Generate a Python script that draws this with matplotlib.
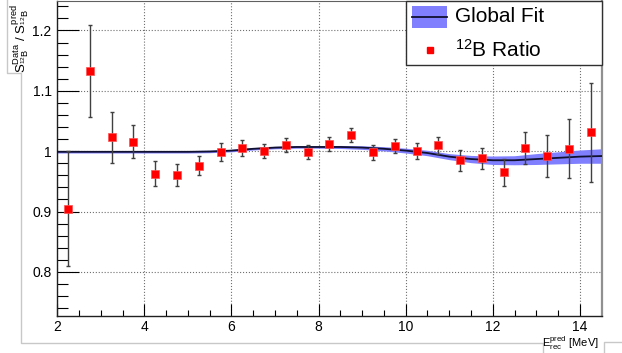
import numpy as np
import matplotlib
matplotlib.use("Agg")
from matplotlib import pyplot as plt
from matplotlib.lines import Line2D
from matplotlib.patches import Rectangle

plt.rcParams['font.family'] = ['Liberation Sans', 'DejaVu Sans']
plt.rcParams['mathtext.fontset'] = 'custom'
plt.rcParams['mathtext.rm'] = 'Liberation Sans'
plt.rcParams['mathtext.it'] = 'Liberation Sans'

# 12B ratio points (bin centres, ratio, error)
e_bins = [2.25, 2.75, 3.25, 3.75, 4.25, 4.75, 5.25, 5.75, 6.25, 6.75, 7.25, 7.75, 8.25,
          8.75, 9.25, 9.75, 10.25, 10.75, 11.25, 11.75, 12.25, 12.75, 13.25, 13.75, 14.25]
ratio = [0.905, 1.133, 1.023, 1.016, 0.963, 0.961, 0.976, 0.999, 1.005, 1.000, 1.010, 0.999, 1.012,
         1.027, 0.998, 1.009, 1.000, 1.010, 0.985, 0.988, 0.965, 1.005, 0.992, 1.004, 1.031]
ratio_err = [0.095, 0.076, 0.042, 0.028, 0.021, 0.018, 0.016, 0.015, 0.013, 0.012, 0.012, 0.012, 0.012,
             0.011, 0.012, 0.012, 0.013, 0.014, 0.017, 0.018, 0.022, 0.026, 0.035, 0.049, 0.082]

# global fit curve and its band
fit_e = [2.0, 3.0, 4.0, 5.0, 5.5, 6.0, 6.5, 7.0, 7.5, 8.0, 8.5, 9.0, 9.5, 10.0,
         10.5, 11.0, 11.5, 12.0, 12.5, 13.0, 13.5, 14.0, 14.5]
fit_val = [0.999, 0.999, 0.999, 0.999, 0.9995, 1.001, 1.004, 1.006, 1.007, 1.007, 1.007, 1.006, 1.004, 1.001,
           0.997, 0.991, 0.987, 0.985, 0.985, 0.987, 0.989, 0.991, 0.992]
fit_err = [0.002, 0.002, 0.002, 0.002, 0.002, 0.002, 0.002, 0.002, 0.002, 0.002, 0.0025, 0.003, 0.0035, 0.004,
           0.0045, 0.005, 0.006, 0.007, 0.0075, 0.009, 0.010, 0.011, 0.012]

fig = plt.figure(figsize=(6.22, 3.53), dpi=100)
ax = fig.add_axes([0.0921, 0.1048, 0.8752, 0.891])

fv = np.array(fit_val)
fe = np.array(fit_err)
ax.fill_between(fit_e, fv - fe, fv + fe, color='#8080ff', lw=0, zorder=2)
ax.plot(fit_e, fit_val, color='#101030', lw=1.3, zorder=3)

ax.errorbar(e_bins, ratio, yerr=ratio_err, fmt='none', ecolor='#404040', elinewidth=1.0,
            capsize=1.5, capthick=1.0, zorder=4)
ax.plot(e_bins, ratio, 's', color='#ff0000', ms=5.8, mec='#ff5050', mew=0.5, zorder=5)

ax.set_xlim(2, 14.5)
ax.set_ylim(0.727, 1.248)
ax.set_xticks([2, 4, 6, 8, 10, 12, 14])
ax.set_xticks(np.arange(2.5, 14.5, 0.5), minor=True)
ax.set_yticks([0.8, 0.9, 1.0, 1.1, 1.2])
ax.set_yticklabels(['0.8', '0.9', '1', '1.1', '1.2'])
ax.set_yticks(np.arange(0.74, 1.25, 0.02), minor=True)
ax.tick_params(axis='y', which='major', direction='in', length=16, width=0.8, labelsize=10, pad=4)
ax.tick_params(axis='y', which='minor', direction='in', length=8, width=0.8)
ax.tick_params(axis='x', which='major', direction='in', length=9, width=0.8, labelsize=10, pad=3)
ax.tick_params(axis='x', which='minor', direction='in', length=4.5, width=0.8)
ax.grid(True, which='major', ls=':', color='#707070', lw=0.8)
for s in ['left', 'bottom']:
    ax.spines[s].set_color('#202020')
    ax.spines[s].set_linewidth(1.0)
ax.spines['top'].set_color('#606060')
ax.spines['right'].set_color('#909090')
ax.spines['right'].set_linewidth(1.6)

# legend box
tr = fig.transFigure
def fx(px):
    return px / 622.0
def fy(py):
    return 1 - py / 353.0
fig.add_artist(Rectangle((fx(405.7), fy(65)), fx(601.7) - fx(405.7), fy(1.5) - fy(65),
                         transform=tr, facecolor='white', edgecolor='#303030', lw=1.0, zorder=10))
fig.add_artist(Rectangle((fx(411.7), fy(27.7)), fx(447.3) - fx(411.7), fy(6) - fy(27.7),
                         transform=tr, facecolor='#8080ff', edgecolor='none', zorder=11))
fig.add_artist(Line2D([fx(411.7), fx(447.3)], [fy(17), fy(17)], transform=tr, color='#101030', lw=1.3, zorder=12))
fig.add_artist(Line2D([fx(430)], [fy(50)], transform=tr, marker='s', color='#ff0000', ms=5, zorder=12))
fig.text(fx(455), fy(17), 'Global Fit', fontsize=15, va='center', ha='left', zorder=12)
fig.text(fx(455), fy(50), r'$^{12}$B Ratio', fontsize=15, va='center', ha='left', zorder=12)

# axis titles
fig.text(fx(20), fy(4), r'S$^{\mathrm{Data}}_{^{12}\mathrm{B}}$ / S$^{\mathrm{pred}}_{^{12}\mathrm{B}}$',
         rotation=90, fontsize=9.5, ha='center', va='top')
fig.text(fx(599), fy(343.5), r'E$^{\mathrm{pred}}_{\mathrm{rec}}$ [MeV]', fontsize=8, ha='right', va='center')

# faint canvas frames
gc = '#c8c8c8'
for xs, ys in [([7, 7, 21, 21, 543, 543], [0, 73, 73, 343, 343, 353]),
               ([604, 604, 622], [353, 342, 342])]:
    fig.add_artist(Line2D([fx(v) for v in xs], [fy(v) for v in ys], transform=tr, color=gc, lw=1.0))

fig.savefig('out.png', dpi=100)
